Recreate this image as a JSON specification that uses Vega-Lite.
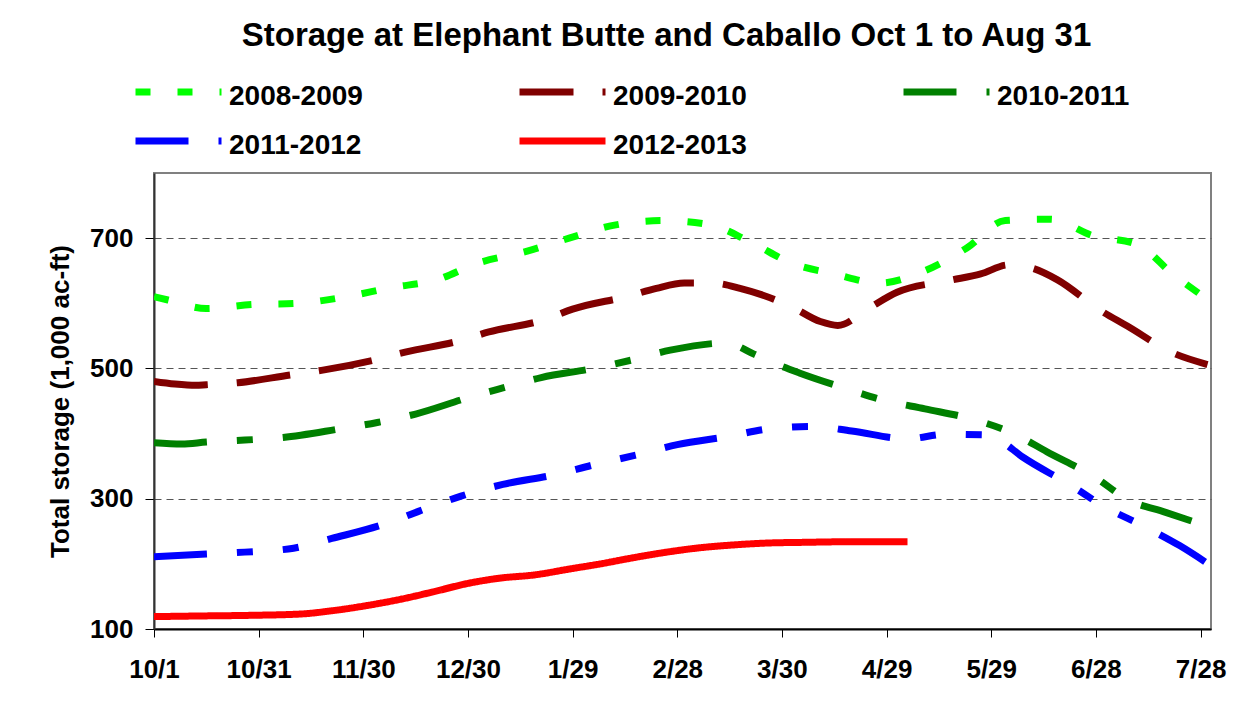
{
  "$schema": "https://vega.github.io/schema/vega-lite/v6.json",
  "width": 1057,
  "height": 456,
  "autosize": {"type": "none"},
  "padding": {"left": 154, "top": 173, "right": 40, "bottom": 77},
  "background": "white",
  "title": {
    "text": "Storage at Elephant Butte and Caballo Oct 1 to Aug 31",
    "fontSize": 33,
    "fontWeight": "bold",
    "font": "Liberation Sans",
    "color": "black",
    "anchor": "middle",
    "dx": -16,
    "offset": -2,
    "baseline": "alphabetic"
  },
  "data": {
    "values": [
      {"season": "2008-2009", "day": 0, "storage": 610},
      {"season": "2008-2009", "day": 4, "storage": 605},
      {"season": "2008-2009", "day": 15, "storage": 592},
      {"season": "2008-2009", "day": 28, "storage": 598},
      {"season": "2008-2009", "day": 41, "storage": 600},
      {"season": "2008-2009", "day": 55, "storage": 610},
      {"season": "2008-2009", "day": 68, "storage": 624},
      {"season": "2008-2009", "day": 81, "storage": 636},
      {"season": "2008-2009", "day": 93, "storage": 662},
      {"season": "2008-2009", "day": 107, "storage": 680},
      {"season": "2008-2009", "day": 119, "storage": 700},
      {"season": "2008-2009", "day": 132, "storage": 720},
      {"season": "2008-2009", "day": 146, "storage": 727},
      {"season": "2008-2009", "day": 159, "storage": 721},
      {"season": "2008-2009", "day": 171, "storage": 694},
      {"season": "2008-2009", "day": 183, "storage": 661},
      {"season": "2008-2009", "day": 195, "storage": 645},
      {"season": "2008-2009", "day": 208, "storage": 631},
      {"season": "2008-2009", "day": 221, "storage": 650},
      {"season": "2008-2009", "day": 233, "storage": 685},
      {"season": "2008-2009", "day": 244, "storage": 727},
      {"season": "2008-2009", "day": 257, "storage": 729},
      {"season": "2008-2009", "day": 269, "storage": 704},
      {"season": "2008-2009", "day": 282, "storage": 690},
      {"season": "2008-2009", "day": 292, "storage": 645},
      {"season": "2008-2009", "day": 302, "storage": 606},

      {"season": "2009-2010", "day": 0, "storage": 480},
      {"season": "2009-2010", "day": 6, "storage": 476},
      {"season": "2009-2010", "day": 12, "storage": 474},
      {"season": "2009-2010", "day": 15, "storage": 475},
      {"season": "2009-2010", "day": 24, "storage": 478},
      {"season": "2009-2010", "day": 39, "storage": 490},
      {"season": "2009-2010", "day": 48, "storage": 497},
      {"season": "2009-2010", "day": 64, "storage": 514},
      {"season": "2009-2010", "day": 72, "storage": 525},
      {"season": "2009-2010", "day": 88, "storage": 543},
      {"season": "2009-2010", "day": 96, "storage": 556},
      {"season": "2009-2010", "day": 112, "storage": 575},
      {"season": "2009-2010", "day": 120, "storage": 591},
      {"season": "2009-2010", "day": 136, "storage": 611},
      {"season": "2009-2010", "day": 144, "storage": 623},
      {"season": "2009-2010", "day": 152, "storage": 631},
      {"season": "2009-2010", "day": 160, "storage": 631},
      {"season": "2009-2010", "day": 168, "storage": 623},
      {"season": "2009-2010", "day": 183, "storage": 594},
      {"season": "2009-2010", "day": 191, "storage": 572},
      {"season": "2009-2010", "day": 196, "storage": 566},
      {"season": "2009-2010", "day": 205, "storage": 593},
      {"season": "2009-2010", "day": 213, "storage": 617},
      {"season": "2009-2010", "day": 228, "storage": 635},
      {"season": "2009-2010", "day": 237, "storage": 645},
      {"season": "2009-2010", "day": 245, "storage": 659},
      {"season": "2009-2010", "day": 251, "storage": 655},
      {"season": "2009-2010", "day": 259, "storage": 636},
      {"season": "2009-2010", "day": 271, "storage": 590},
      {"season": "2009-2010", "day": 279, "storage": 565},
      {"season": "2009-2010", "day": 292, "storage": 524},
      {"season": "2009-2010", "day": 302, "storage": 506},

      {"season": "2010-2011", "day": 0, "storage": 386},
      {"season": "2010-2011", "day": 8, "storage": 384},
      {"season": "2010-2011", "day": 15, "storage": 387},
      {"season": "2010-2011", "day": 26, "storage": 390},
      {"season": "2010-2011", "day": 37, "storage": 394},
      {"season": "2010-2011", "day": 53, "storage": 407},
      {"season": "2010-2011", "day": 64, "storage": 417},
      {"season": "2010-2011", "day": 75, "storage": 430},
      {"season": "2010-2011", "day": 90, "storage": 455},
      {"season": "2010-2011", "day": 100, "storage": 470},
      {"season": "2010-2011", "day": 111, "storage": 486},
      {"season": "2010-2011", "day": 126, "storage": 500},
      {"season": "2010-2011", "day": 137, "storage": 513},
      {"season": "2010-2011", "day": 148, "storage": 528},
      {"season": "2010-2011", "day": 164, "storage": 539},
      {"season": "2010-2011", "day": 172, "storage": 522},
      {"season": "2010-2011", "day": 176, "storage": 512},
      {"season": "2010-2011", "day": 185, "storage": 493},
      {"season": "2010-2011", "day": 199, "storage": 468},
      {"season": "2010-2011", "day": 210, "storage": 450},
      {"season": "2010-2011", "day": 221, "storage": 438},
      {"season": "2010-2011", "day": 236, "storage": 420},
      {"season": "2010-2011", "day": 246, "storage": 401},
      {"season": "2010-2011", "day": 256, "storage": 372},
      {"season": "2010-2011", "day": 270, "storage": 332},
      {"season": "2010-2011", "day": 279, "storage": 299},
      {"season": "2010-2011", "day": 290, "storage": 279},
      {"season": "2010-2011", "day": 303, "storage": 256},

      {"season": "2011-2012", "day": 0, "storage": 211},
      {"season": "2011-2012", "day": 15, "storage": 215},
      {"season": "2011-2012", "day": 26, "storage": 218},
      {"season": "2011-2012", "day": 40, "storage": 224},
      {"season": "2011-2012", "day": 51, "storage": 239},
      {"season": "2011-2012", "day": 66, "storage": 261},
      {"season": "2011-2012", "day": 76, "storage": 281},
      {"season": "2011-2012", "day": 88, "storage": 304},
      {"season": "2011-2012", "day": 100, "storage": 322},
      {"season": "2011-2012", "day": 115, "storage": 337},
      {"season": "2011-2012", "day": 126, "storage": 352},
      {"season": "2011-2012", "day": 139, "storage": 368},
      {"season": "2011-2012", "day": 150, "storage": 383},
      {"season": "2011-2012", "day": 165, "storage": 396},
      {"season": "2011-2012", "day": 176, "storage": 407},
      {"season": "2011-2012", "day": 189, "storage": 411},
      {"season": "2011-2012", "day": 200, "storage": 404},
      {"season": "2011-2012", "day": 216, "storage": 392},
      {"season": "2011-2012", "day": 227, "storage": 399},
      {"season": "2011-2012", "day": 238, "storage": 398},
      {"season": "2011-2012", "day": 242, "storage": 391},
      {"season": "2011-2012", "day": 249, "storage": 364},
      {"season": "2011-2012", "day": 263, "storage": 320},
      {"season": "2011-2012", "day": 272, "storage": 289},
      {"season": "2011-2012", "day": 284, "storage": 257},
      {"season": "2011-2012", "day": 294, "storage": 228},
      {"season": "2011-2012", "day": 303, "storage": 197},

      {"season": "2012-2013", "day": 0, "storage": 119},
      {"season": "2012-2013", "day": 13, "storage": 120},
      {"season": "2012-2013", "day": 28, "storage": 121},
      {"season": "2012-2013", "day": 42, "storage": 123},
      {"season": "2012-2013", "day": 51, "storage": 128},
      {"season": "2012-2013", "day": 61, "storage": 136},
      {"season": "2012-2013", "day": 71, "storage": 146},
      {"season": "2012-2013", "day": 80, "storage": 157},
      {"season": "2012-2013", "day": 90, "storage": 170},
      {"season": "2012-2013", "day": 99, "storage": 178},
      {"season": "2012-2013", "day": 109, "storage": 183},
      {"season": "2012-2013", "day": 119, "storage": 192},
      {"season": "2012-2013", "day": 128, "storage": 200},
      {"season": "2012-2013", "day": 138, "storage": 210},
      {"season": "2012-2013", "day": 147, "storage": 218},
      {"season": "2012-2013", "day": 157, "storage": 225},
      {"season": "2012-2013", "day": 166, "storage": 229},
      {"season": "2012-2013", "day": 176, "storage": 232},
      {"season": "2012-2013", "day": 186, "storage": 233},
      {"season": "2012-2013", "day": 200, "storage": 234},
      {"season": "2012-2013", "day": 216, "storage": 234}
    ]
  },
  "mark": {"type": "line", "strokeWidth": 7, "strokeCap": "butt", "interpolate": "monotone", "clip": true},
  "encoding": {
    "x": {
      "field": "day",
      "type": "quantitative",
      "scale": {"domain": [0, 303], "nice": false, "zero": false},
      "axis": {
        "title": null,
        "values": [0, 30, 60, 90, 120, 150, 180, 210, 240, 270, 300],
        "labelExpr": "['10/1','10/31','11/30','12/30','1/29','2/28','3/30','4/29','5/29','6/28','7/28'][round(datum.value/30)]",
        "grid": false,
        "domainColor": "#000000",
        "domainWidth": 2,
        "tickColor": "#000000",
        "tickWidth": 1,
        "tickSize": 8,
        "labelFont": "Liberation Sans",
        "labelFontSize": 26,
        "labelFontWeight": "bold",
        "labelColor": "#000000",
        "labelPadding": 19,
        "labelFlush": false,
        "labelOverlap": false
      }
    },
    "y": {
      "field": "storage",
      "type": "quantitative",
      "scale": {"domain": [100, 800], "nice": false, "zero": false},
      "axis": {
        "title": "Total storage (1,000 ac-ft)",
        "titleFont": "Liberation Sans",
        "titleFontSize": 26,
        "titleFontWeight": "bold",
        "titleColor": "#000000",
        "titlePadding": 16,
        "values": [100, 300, 500, 700],
        "grid": true,
        "gridColor": "#555555",
        "gridDash": [7, 5],
        "gridWidth": 1,
        "domainColor": "#333333",
        "domainWidth": 2,
        "tickColor": "#000000",
        "tickWidth": 1,
        "tickSize": 9,
        "labelFont": "Liberation Sans",
        "labelFontSize": 26,
        "labelFontWeight": "bold",
        "labelColor": "#000000",
        "labelPadding": 12,
        "labelOverlap": false
      }
    },
    "color": {
      "field": "season",
      "type": "nominal",
      "scale": {
        "domain": ["2008-2009", "2009-2010", "2010-2011", "2011-2012", "2012-2013"],
        "range": ["#00FF00", "#800000", "#008000", "#0000FF", "#FF0000"]
      },
      "legend": {
        "title": null,
        "orient": "none",
        "direction": "horizontal",
        "legendX": -22,
        "legendY": -96,
        "columns": 3,
        "columnPadding": 153,
        "rowPadding": 15,
        "clipHeight": 30,
        "padding": 0,
        "symbolType": "stroke",
        "symbolSize": 7396,
        "symbolStrokeWidth": 7,
        "labelFont": "Liberation Sans",
        "labelFontSize": 28,
        "labelFontWeight": "bold",
        "labelColor": "#000000",
        "labelOffset": 4,
        "labelLimit": 400,
        "encode": {"labels": {"update": {"dy": {"value": 5}}}}
      }
    },
    "strokeDash": {
      "field": "season",
      "type": "nominal",
      "scale": {
        "domain": ["2008-2009", "2009-2010", "2010-2011", "2011-2012", "2012-2013"],
        "range": [[15, 27], [54, 29], [53, 30, 16, 30], [53, 30, 16, 30, 16, 30], [1, 0]]
      },
      "legend": {
        "title": null,
        "orient": "none",
        "direction": "horizontal",
        "legendX": -22,
        "legendY": -96,
        "columns": 3,
        "columnPadding": 153,
        "rowPadding": 15,
        "clipHeight": 30,
        "padding": 0,
        "symbolType": "stroke",
        "symbolSize": 7396,
        "symbolStrokeWidth": 7,
        "labelFont": "Liberation Sans",
        "labelFontSize": 28,
        "labelFontWeight": "bold",
        "labelColor": "#000000",
        "labelOffset": 4,
        "labelLimit": 400,
        "encode": {"labels": {"update": {"dy": {"value": 5}}}}
      }
    }
  },
  "config": {
    "view": {"stroke": "#808080", "strokeWidth": 2},
    "font": "Liberation Sans"
  }
}
